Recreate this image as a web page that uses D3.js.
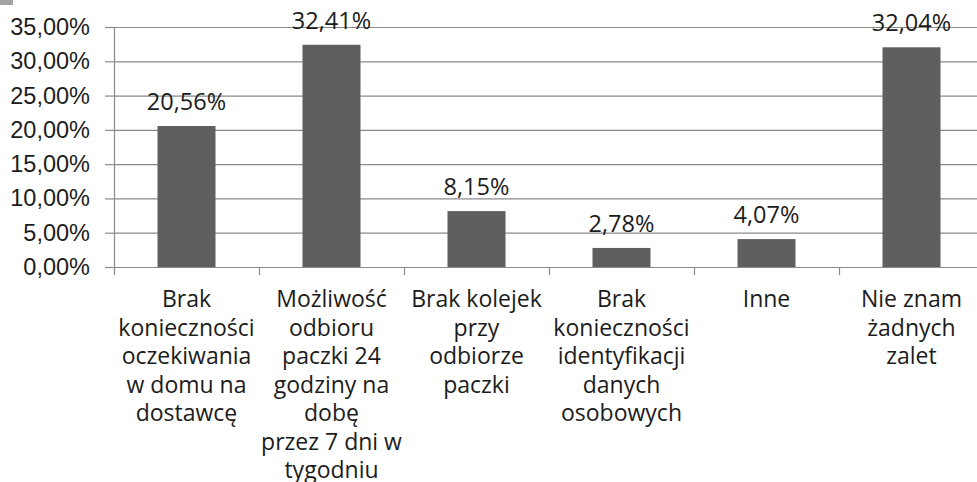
<!DOCTYPE html>
<html>
<head>
<meta charset="utf-8">
<title>Zalety paczkomatów</title>
<style>
  body { margin: 0; background: #fff; }
  svg { display: block; font-family: "Open Sans", sans-serif; }
  .axis text { fill: #1c1c1c; }
</style>
</head>
<body>
<script src="https://d3js.org/d3.v7.min.js"></script>
<script type="text/javascript">

// data
var categories = [
    "Brak\nkonieczności\noczekiwania\nw domu na\ndostawcę",
    "Możliwość\nodbioru\npaczki 24\ngodziny na\ndobę\nprzez 7 dni w\ntygodniu",
    "Brak kolejek\nprzy\nodbiorze\npaczki",
    "Brak\nkonieczności\nidentyfikacji\ndanych\nosobowych",
    "Inne",
    "Nie znam\nżadnych\nzalet"
];
var values = [20.56, 32.41, 8.15, 2.78, 4.07, 32.04];
var yTicks = [0, 5, 10, 15, 20, 25, 30, 35];

var width = 977, height = 482;
var plotLeft = 114, plotRight = 984, plotTop = 27, plotBottom = 267;

var fmt = function(v) { return v.toFixed(2).replace(".", ",") + "%"; };

var svg = d3.select("body").append("svg")
    .attr("width", width)
    .attr("height", height);

// small grey mark in the corner of the original
svg.append("rect")
    .attr("x", 0).attr("y", 0)
    .attr("width", 13).attr("height", 5)
    .attr("fill", "#a3a3a3");

var x = d3.scaleBand()
    .domain(categories)
    .range([plotLeft, plotRight])
    .paddingInner(0.6)
    .paddingOuter(0.3);

var xb = d3.scaleLinear().domain([0, categories.length]).range([plotLeft, plotRight]);

var y = d3.scaleLinear().domain([0, 35]).range([plotBottom, plotTop]);

// gridlines
svg.append("g")
    .attr("transform", "translate(" + plotLeft + ",0)")
    .call(d3.axisLeft(y).tickValues(yTicks).tickSize(-(plotRight - plotLeft)).tickFormat(""))
    .call(function(g) { g.select(".domain").remove(); })
    .selectAll("line")
    .attr("stroke", "#8a8a8a")
    .attr("stroke-width", 1.2);

// y axis
var yAxis = svg.append("g")
    .attr("class", "axis")
    .attr("transform", "translate(" + plotLeft + ",0)")
    .call(d3.axisLeft(y).tickValues(yTicks).tickSize(9).tickSizeOuter(0).tickPadding(15).tickFormat(fmt));
yAxis.select(".domain").attr("stroke", "#8a8a8a").attr("stroke-width", 1.2);
yAxis.selectAll("line").attr("stroke", "#8a8a8a").attr("stroke-width", 1.2);
yAxis.selectAll("text").style("font-size", "23.5px");

// x axis (ticks between categories)
var xAxis = svg.append("g")
    .attr("transform", "translate(0," + plotBottom + ")")
    .call(d3.axisBottom(xb).tickValues(d3.range(categories.length + 1)).tickSize(8).tickSizeOuter(0).tickFormat(""));
xAxis.select(".domain").attr("stroke", "#8a8a8a").attr("stroke-width", 1.2);
xAxis.selectAll("line").attr("stroke", "#8a8a8a").attr("stroke-width", 1.2);

// category labels
var labels = svg.append("g").attr("class", "axis")
    .selectAll("text")
    .data(categories)
    .join("text")
    .attr("text-anchor", "middle")
    .attr("x", function(d) { return x(d) + x.bandwidth() / 2; })
    .attr("y", 307)
    .style("font-size", "23px")
    .attr("fill", "#1c1c1c");

labels.selectAll("tspan")
    .data(function(d) { return d.split("\n").map(function(t) { return { cat: d, line: t }; }); })
    .join("tspan")
    .attr("x", function(d) { return x(d.cat) + x.bandwidth() / 2; })
    .attr("dy", function(d, i) { return i === 0 ? 0 : 28.5; })
    .text(function(d) { return d.line; });

// bars
svg.append("g")
    .selectAll("rect")
    .data(values)
    .join("rect")
    .attr("x", function(d, i) { return x(categories[i]); })
    .attr("y", function(d) { return y(d); })
    .attr("width", x.bandwidth())
    .attr("height", function(d) { return plotBottom - y(d); })
    .attr("fill", "#5f5f5f");

// value labels
svg.append("g")
    .selectAll("text")
    .data(values)
    .join("text")
    .attr("text-anchor", "middle")
    .attr("x", function(d, i) { return x(categories[i]) + x.bandwidth() / 2; })
    .attr("y", function(d) { return y(d) - 16; })
    .style("font-size", "23.5px")
    .attr("fill", "#1c1c1c")
    .text(fmt);

</script>
</body>
</html>
